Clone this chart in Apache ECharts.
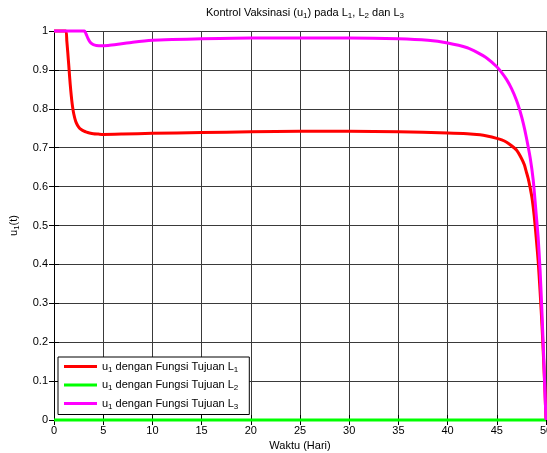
<!DOCTYPE html>
<html><head><meta charset="utf-8">
<script src="https://cdn.jsdelivr.net/npm/echarts@6/dist/echarts.min.js"></script>
<style>html,body{margin:0;padding:0;background:#fff}#c{width:547px;height:453px}</style>
</head><body><div id="c"></div>
<script>
const xTicks = [0,5,10,15,20,25,30,35,40,45,50];
const yTicks = [0,0.1,0.2,0.3,0.4,0.5,0.6,0.7,0.8,0.9,1];
const seriesNames = ['u{sub|1} dengan Fungsi Tujuan L{sub|1}','u{sub|1} dengan Fungsi Tujuan L{sub|2}','u{sub|1} dengan Fungsi Tujuan L{sub|3}'];
const redX = [0,1.2,1.3,1.4,1.5,1.6,1.7,1.8,1.9,2.0,2.2,2.4,2.6,2.8,3.0,3.3,3.6,4.0,4.5,5,7,10,15,20,25,30,35,40,42,43.3,44,45,45.5,46,46.5,47,47.5,47.8,48,48.2,48.4,48.6,48.8,49.0,49.2,49.4,49.6,49.8,49.9,50];
const redY = [1,1,0.975,0.945,0.912,0.878,0.848,0.823,0.803,0.788,0.768,0.757,0.750,0.746,0.743,0.740,0.738,0.736,0.735,0.734,0.735,0.737,0.739,0.741,0.742,0.742,0.741,0.738,0.736,0.733,0.730,0.724,0.720,0.714,0.705,0.694,0.673,0.656,0.638,0.620,0.596,0.567,0.525,0.47,0.41,0.33,0.24,0.13,0.07,0];
const greenX = [0,50];
const greenY = [0,0];
const magX = [0,3.1,3.2,3.3,3.45,3.6,3.8,4.0,4.3,4.8,5.5,6.5,8,10,12,15,20,25,30,35,38,40,42,43,44,45,45.5,46,46.5,47,47.35,47.7,48,48.4,48.7,49,49.2,49.4,49.6,49.8,50];
const magY = [1,1,0.996,0.99,0.981,0.974,0.968,0.965,0.963,0.962,0.963,0.966,0.971,0.976,0.978,0.980,0.982,0.982,0.982,0.980,0.976,0.969,0.957,0.945,0.930,0.908,0.893,0.875,0.852,0.822,0.795,0.762,0.727,0.673,0.617,0.53,0.47,0.385,0.27,0.14,0];
const colors = ['#ff0000','#00ff00','#ff00ff'];

function pairs(xs, ys){ return xs.map((x,i)=>[x, ys[i]]); }
const rich = {sub:{fontSize:8, padding:[6,0,0,0], color:'#000', fontFamily:'Liberation Sans'}};
const chart = echarts.init(document.getElementById('c'), null, {renderer:'canvas'});
const axisLine = {show:true, lineStyle:{color:'#000', width:1}};
const splitLine = {show:true, lineStyle:{color:'#3a3a3a', width:1}};
chart.setOption({
  backgroundColor:'#fff',
  animation:false,
  textStyle:{fontFamily:'Liberation Sans'},
  title:{text:'Kontrol Vaksinasi (u{sub|1}) pada L{sub|1}, L{sub|2} dan L{sub|3}', left:300, textAlign:'center', top:1,
    textStyle:{fontSize:11, fontWeight:'normal', color:'#000', fontFamily:'Liberation Sans', rich:rich}},
  grid:{left:54, right:1, top:31, bottom:33, containLabel:false, outerBoundsMode:'none'},
  legend:{orient:'vertical', left:58, top:357, itemWidth:33, itemHeight:3, itemGap:6, icon:'rect',
    backgroundColor:'#fff', borderColor:'#000', borderWidth:1, borderRadius:0, padding:[4,11,4,6],
    data:seriesNames,
    textStyle:{fontSize:11, color:'#000', fontFamily:'Liberation Sans', rich:rich}},
  xAxis:[{type:'value', min:xTicks[0], max:xTicks[xTicks.length-1], interval:5, position:'bottom',
    name:'Waktu (Hari)', nameLocation:'middle', nameGap:19, nameTextStyle:{fontSize:11,color:'#000'},
    axisLine:axisLine, axisTick:{inside:true, length:5, lineStyle:{color:'#000'}},
    axisLabel:{fontSize:11, color:'#000', margin:5, hideOverlap:false}, splitLine:splitLine},
   {type:'value', min:xTicks[0], max:xTicks[xTicks.length-1], interval:5, position:'top',
    axisLine:axisLine, axisTick:{inside:true, length:5, lineStyle:{color:'#000'}}, axisLabel:{show:false}, splitLine:{show:false}}],
  yAxis:[{type:'value', min:yTicks[0], max:yTicks[yTicks.length-1], interval:0.1, position:'left',
    name:'u{sub|1}(t)', nameLocation:'middle', nameGap:33, nameRotate:90,
    nameTextStyle:{fontSize:11,color:'#000', rich:rich},
    axisLine:axisLine, axisTick:{inside:true, length:5, lineStyle:{color:'#000'}},
    axisLabel:{fontSize:11, color:'#000', margin:6, formatter:v=>String(Math.round(v*10)/10)}, splitLine:splitLine},
   {type:'value', min:yTicks[0], max:yTicks[yTicks.length-1], interval:0.1, position:'right',
    axisLine:axisLine, axisTick:{inside:true, length:5, lineStyle:{color:'#000'}}, axisLabel:{show:false}, splitLine:{show:false}}],
  series:[
    {name:seriesNames[0], type:'line', data:pairs(redX, redY), showSymbol:false, symbol:'none', smooth:0.2, clip:false,
     lineStyle:{color:colors[0], width:3}, itemStyle:{color:colors[0]}},
    {name:seriesNames[1], type:'line', data:pairs(greenX, greenY), showSymbol:false, symbol:'none', clip:false,
     lineStyle:{color:colors[1], width:3}, itemStyle:{color:colors[1]}},
    {name:seriesNames[2], type:'line', data:pairs(magX, magY), showSymbol:false, symbol:'none', smooth:0.2, clip:false,
     lineStyle:{color:colors[2], width:3}, itemStyle:{color:colors[2]}}
  ]
});
</script></body></html>
